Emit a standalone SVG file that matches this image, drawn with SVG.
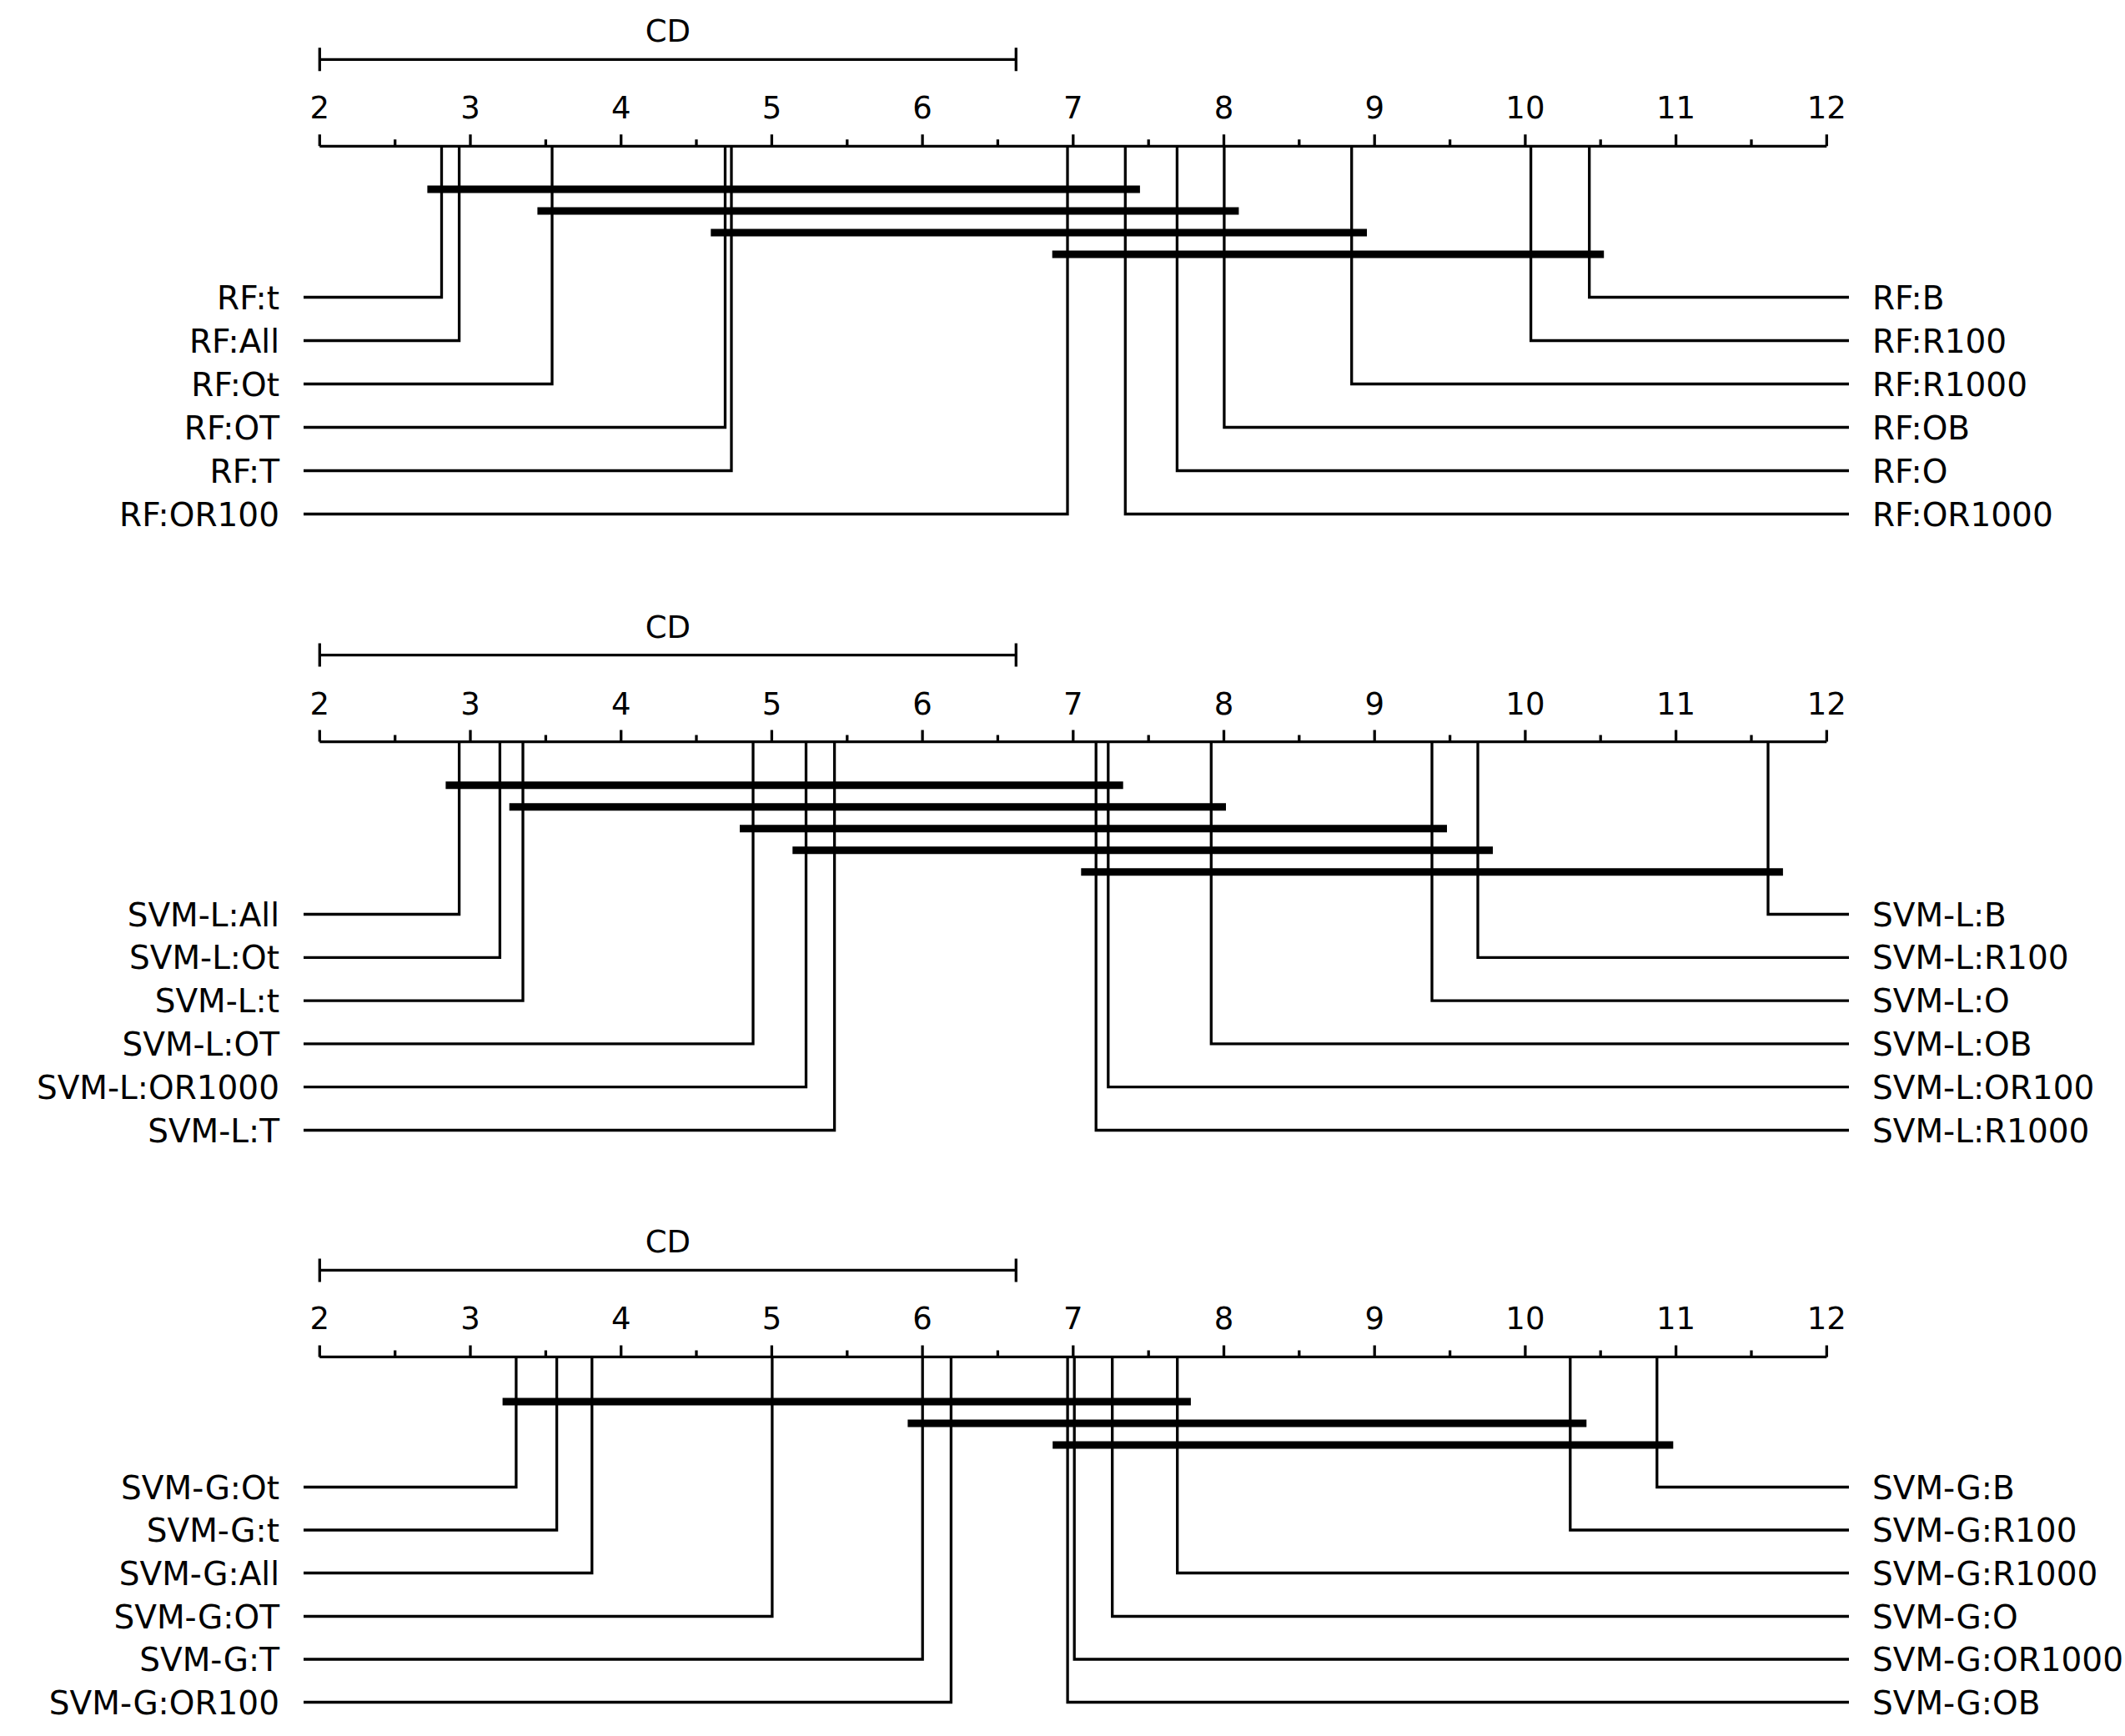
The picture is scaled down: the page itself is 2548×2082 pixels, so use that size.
<svg xmlns="http://www.w3.org/2000/svg" width="2548" height="2082" viewBox="0 0 2548 2082">
<style>
text{font-family:"DejaVu Sans",sans-serif;fill:#000}
.t{font-size:37px;text-anchor:middle}
.l{font-size:39px;text-anchor:end}
.r{font-size:39px;text-anchor:start}
.ln{fill:none;stroke:#000;stroke-width:3.3}
.bar{stroke:#000;stroke-width:9}
</style>
<rect width="2548" height="2082" fill="#fff"/>
<defs>
<g id="axis">
<path class="ln" d="M383.3,0H2190.3 M383.3,0v-14 M564,0v-14 M744.7,0v-14 M925.4,0v-14 M1106.1,0v-14 M1286.8,0v-14 M1467.5,0v-14 M1648.2,0v-14 M1828.9,0v-14 M2009.6,0v-14 M2190.3,0v-14 M473.7,0v-8 M654.4,0v-8 M835,0v-8 M1015.8,0v-8 M1196.4,0v-8 M1377.2,0v-8 M1557.8,0v-8 M1738.6,0v-8 M1919.2,0v-8 M2100,0v-8"/>
<g class="t">
<text x="383.3" y="-33">2</text><text x="564" y="-33">3</text><text x="744.7" y="-33">4</text><text x="925.4" y="-33">5</text><text x="1106.1" y="-33">6</text><text x="1286.8" y="-33">7</text><text x="1467.5" y="-33">8</text><text x="1648.2" y="-33">9</text><text x="1828.9" y="-33">10</text><text x="2009.6" y="-33">11</text><text x="2190.3" y="-33">12</text>
</g>
<path class="ln" d="M383.3,-104H1218.3 M383.3,-118v28 M1218.3,-118v28"/>
<text class="t" x="800.8" y="-125">CD</text>
</g>
</defs>

<g id="panel-rf">
<use href="#axis" transform="translate(0,175.3)"/>
</g>
<g id="panel-svml">
<use href="#axis" transform="translate(0,889.6)"/>
</g>
<g id="panel-svmg">
<use href="#axis" transform="translate(0,1627.4)"/>
</g>

<g id="connectors">
<!-- panel 1 -->
<path class="ln" d="M364,356.5H529.5V175.3 M364,408.5H550.6V175.3 M364,460.5H662V175.3 M364,512.5H869.5V175.3 M364,564.5H877V175.3 M364,616.5H1280V175.3"/>
<path class="ln" d="M2217,356.5H1905.7V175.3 M2217,408.5H1835.6V175.3 M2217,460.5H1620.7V175.3 M2217,512.5H1467.9V175.3 M2217,564.5H1411.4V175.3 M2217,616.5H1349.3V175.3"/>
<path class="bar" d="M512.4,227H1366.9 M644.4,253H1485.4 M852.3,279H1639 M1261.7,305H1923.2"/>
<!-- panel 2 -->
<path class="ln" d="M364,1096.5H550.6V889.6 M364,1148.3H599.4V889.6 M364,1200.1H627V889.6 M364,1251.9H903V889.6 M364,1303.7H966.5V889.6 M364,1355.5H1000.6V889.6"/>
<path class="ln" d="M2217,1096.5H2120V889.6 M2217,1148.3H1772V889.6 M2217,1200.1H1717V889.6 M2217,1251.9H1452.3V889.6 M2217,1303.7H1328.8V889.6 M2217,1355.5H1314.2V889.6"/>
<path class="bar" d="M534.4,941.7H1346.7 M610.7,967.7H1470 M887,993.7H1735 M950.3,1019.7H1790 M1296.3,1045.7H2137.9"/>
<!-- panel 3 -->
<path class="ln" d="M364,1783.5H618.9V1627.4 M364,1835H667.6V1627.4 M364,1886.5H709.8V1627.4 M364,1938.5H925.9V1627.4 M364,1990H1106.2V1627.4 M364,2041.5H1140.4V1627.4"/>
<path class="ln" d="M2217,1783.5H1986.8V1627.4 M2217,1835H1882.8V1627.4 M2217,1886.5H1411.7V1627.4 M2217,1938.5H1333.7V1627.4 M2217,1990H1288.2V1627.4 M2217,2041.5H1280.1V1627.4"/>
<path class="bar" d="M602.6,1681H1427.9 M1088.4,1707H1902.3 M1262.2,1733H2006.3"/>
</g>

<g id="labels-rf">
<text class="l" x="335" y="370.5">RF:t</text>
<text class="l" x="335" y="422.5">RF:All</text>
<text class="l" x="335" y="474.5">RF:Ot</text>
<text class="l" x="335" y="526.5">RF:OT</text>
<text class="l" x="335" y="578.5">RF:T</text>
<text class="l" x="335" y="630.5">RF:OR100</text>
<text class="r" x="2245" y="370.5">RF:B</text>
<text class="r" x="2245" y="422.5">RF:R100</text>
<text class="r" x="2245" y="474.5">RF:R1000</text>
<text class="r" x="2245" y="526.5">RF:OB</text>
<text class="r" x="2245" y="578.5">RF:O</text>
<text class="r" x="2245" y="630.5">RF:OR1000</text>
</g>
<g id="labels-svml">
<text class="l" x="335" y="1110.5">SVM-L:All</text>
<text class="l" x="335" y="1162.3">SVM-L:Ot</text>
<text class="l" x="335" y="1214.1">SVM-L:t</text>
<text class="l" x="335" y="1265.9">SVM-L:OT</text>
<text class="l" x="335" y="1317.7">SVM-L:OR1000</text>
<text class="l" x="335" y="1369.5">SVM-L:T</text>
<text class="r" x="2245" y="1110.5">SVM-L:B</text>
<text class="r" x="2245" y="1162.3">SVM-L:R100</text>
<text class="r" x="2245" y="1214.1">SVM-L:O</text>
<text class="r" x="2245" y="1265.9">SVM-L:OB</text>
<text class="r" x="2245" y="1317.7">SVM-L:OR100</text>
<text class="r" x="2245" y="1369.5">SVM-L:R1000</text>
</g>
<g id="labels-svmg">
<text class="l" x="335" y="1797.5">SVM-G:Ot</text>
<text class="l" x="335" y="1849">SVM-G:t</text>
<text class="l" x="335" y="1900.5">SVM-G:All</text>
<text class="l" x="335" y="1952.5">SVM-G:OT</text>
<text class="l" x="335" y="2004">SVM-G:T</text>
<text class="l" x="335" y="2055.5">SVM-G:OR100</text>
<text class="r" x="2245" y="1797.5">SVM-G:B</text>
<text class="r" x="2245" y="1849">SVM-G:R100</text>
<text class="r" x="2245" y="1900.5">SVM-G:R1000</text>
<text class="r" x="2245" y="1952.5">SVM-G:O</text>
<text class="r" x="2245" y="2004">SVM-G:OR1000</text>
<text class="r" x="2245" y="2055.5">SVM-G:OB</text>
</g>
</svg>
